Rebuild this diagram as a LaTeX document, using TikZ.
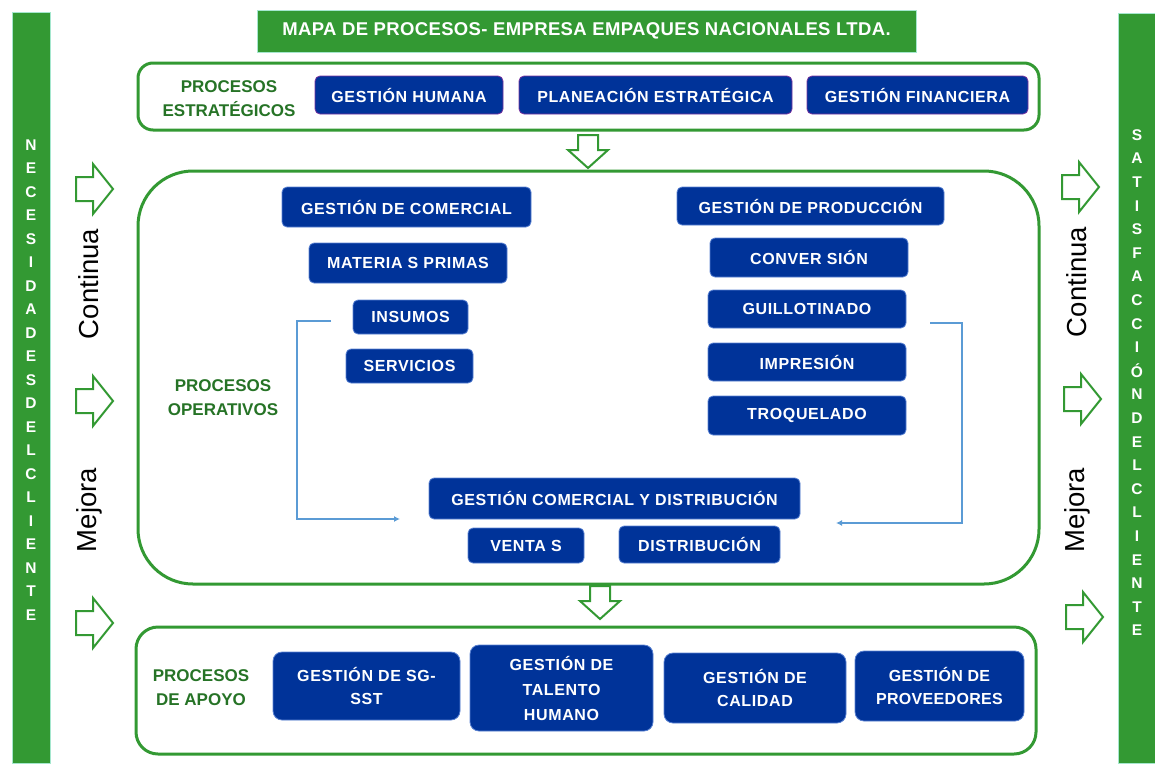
\documentclass[tikz,border=0pt]{standalone}
\usepackage{fontspec}
\setmainfont{Liberation Sans}
\usetikzlibrary{arrows.meta}
\definecolor{gr}{RGB}{51,153,51}
\definecolor{bl}{RGB}{0,51,153}
\definecolor{bledge}{RGB}{90,130,210}
\definecolor{pu}{RGB}{120,50,160}
\definecolor{lb}{RGB}{91,155,213}
\tikzset{
  bbox/.style={fill=bl, draw=bledge, line width=0.8pt, rounded corners=5pt, text=white,
    font=\fontsize{16}{24}\selectfont\bfseries\addfontfeature{LetterSpace=4}, align=center, inner sep=2pt},
  tbox/.style={bbox, draw=pu},
  grbox/.style={draw=gr, line width=3pt},
  grlab/.style={text=gr!75!black, font=\fontsize{17}{24}\selectfont\bfseries, align=center},
  side/.style={font=\fontsize{27.5}{30}\selectfont, rotate=90},
  bar/.style={fill=gr, draw=gr!60!cyan!40, line width=0.6pt},
  barlet/.style={text=white, font=\fontsize{15.5}{16}\selectfont\bfseries},
  harrow/.style={draw=gr, line width=2pt, fill=white, line join=miter},
  conn/.style={draw=lb, line width=1.8pt},
  rarr/.pic={\path[harrow] (0,-12) -- (17,-12) -- (17,-25) -- (37,0) -- (17,25) -- (17,12) -- (0,12) -- cycle;},
  darr/.pic={\path[harrow] (-10,0) -- (10,0) -- (10,15) -- (20,15) -- (0,33) -- (-20,15) -- (-10,15) -- cycle;}
}
\begin{document}
\begin{tikzpicture}[x=1pt,y=-1pt]
\useasboundingbox (0,0) rectangle (1155,763);
% side bars
\path[bar] (12,12) rectangle (50,763);
\path[bar] (1118,13) rectangle (1156,763);
\foreach \l [count=\i from 0] in {N,E,C,E,S,I,D,A,D,E,S,D,E,L,C,L,I,E,N,T,E}
  \node[barlet] at (31,{145+\i*23.5}) {\l};
\foreach \l [count=\i from 0] in {S,A,T,I,S,F,A,C,C,I,Ó,N,D,E,L,C,L,I,E,N,T,E}
  \node[barlet] at (1137,{135+\i*23.6}) {\l};
% title
\node[fill=gr, draw=gr!60!cyan!40, line width=0.6pt, minimum width=659pt, minimum height=42pt, text=white,
  font=\fontsize{18.5}{20}\selectfont\bfseries\addfontfeature{LetterSpace=2}] (title) at (586.5,31)
  {MAPA DE PROCESOS- EMPRESA EMPAQUES NACIONALES LTDA.};
% group frames
\draw[grbox, rounded corners=15pt] (138,63) rectangle (1039,130);
\draw[grbox, rounded corners=55pt] (138,171) rectangle (1039,584);
\draw[grbox, rounded corners=22pt] (136,627) rectangle (1036,754);
% group labels
\node[grlab] (lest) at (229,99) {PROCESOS\\ESTRATÉGICOS};
\node[grlab] (lop) at (223,398) {PROCESOS\\OPERATIVOS};
\node[grlab] (lap) at (201,688) {PROCESOS\\DE APOYO};
% strategic
\node[tbox, minimum width=188pt, minimum height=38pt] (gh) at (409,95) {GESTIÓN HUMANA};
\node[tbox, minimum width=273pt, minimum height=38pt] (pe) at (655.5,95) {PLANEACIÓN ESTRATÉGICA};
\node[tbox, minimum width=221pt, minimum height=38pt] (gf) at (917.5,95) {GESTIÓN FINANCIERA};
% operative
\node[bbox, minimum width=249pt, minimum height=40pt] (gdc) at (406.5,207) {GESTIÓN DE COMERCIAL};
\node[bbox, minimum width=198pt, minimum height=40pt] (mp) at (408,263) {MATERIA S PRIMAS};
\node[bbox, minimum width=115pt, minimum height=34pt] (ins) at (410.5,317) {INSUMOS};
\node[bbox, minimum width=127pt, minimum height=34pt] (serv) at (409.5,366) {SERVICIOS};
\node[bbox, minimum width=267pt, minimum height=38pt] (gdp) at (810.5,206) {GESTIÓN DE PRODUCCIÓN};
\node[bbox, minimum width=198pt, minimum height=39pt] (conv) at (809,257.5) {CONVER SIÓN};
\node[bbox, minimum width=198pt, minimum height=38pt] (guil) at (807,309) {GUILLOTINADO};
\node[bbox, minimum width=198pt, minimum height=38pt] (imp) at (807,362) {IMPRESIÓN};
\node[bbox, minimum width=198pt, minimum height=39pt] (troq) at (807,415.5) {TROQUELADO};
\node[bbox, minimum width=371pt, minimum height=41pt] (gcd) at (614.5,498.5) {GESTIÓN COMERCIAL Y DISTRIBUCIÓN};
\node[bbox, minimum width=116pt, minimum height=35pt] (ven) at (526,545.5) {VENTA S};
\node[bbox, minimum width=161pt, minimum height=37pt] (dist) at (699.5,544.5) {DISTRIBUCIÓN};
% support
\node[bbox, minimum width=187pt, minimum height=68pt, rounded corners=9pt, font=\fontsize{16}{23}\selectfont\bfseries\addfontfeature{LetterSpace=4}] (sst) at (366.5,686) {GESTIÓN DE SG-\\SST};
\node[bbox, minimum width=183pt, minimum height=86pt, rounded corners=9pt, font=\fontsize{16}{25}\selectfont\bfseries\addfontfeature{LetterSpace=4}] (th) at (561.5,688) {GESTIÓN DE\\TALENTO\\HUMANO};
\node[bbox, minimum width=182pt, minimum height=70pt, rounded corners=9pt, font=\fontsize{16}{23}\selectfont\bfseries\addfontfeature{LetterSpace=4}] (cal) at (755,688) {GESTIÓN DE\\CALIDAD};
\node[bbox, minimum width=169pt, minimum height=70pt, rounded corners=9pt, font=\fontsize{16}{23}\selectfont\bfseries\addfontfeature{LetterSpace=2}] (prov) at (939.5,686) {GESTIÓN DE\\PROVEEDORES};
% connectors
\coordinate (c1) at (331,321);
\coordinate (c1e) at (400,519);
\coordinate (c2) at (930,323);
\coordinate (c2e) at (836,523);
\draw[conn, -{Latex[length=6pt,width=6pt]}] (c1) -- (297,321) -- (297,519) -- (c1e);
\draw[conn, -{Latex[length=6pt,width=6pt]}] (c2) -- (962,323) -- (962,523) -- (c2e);
% block arrows
\pic at (588,135) {darr};
\pic at (600,586) {darr};
\pic at (76,189) {rarr};
\pic at (76,401) {rarr};
\pic at (76,623) {rarr};
\pic at (1062,187) {rarr};
\pic at (1064,399) {rarr};
\pic at (1066,617) {rarr};
% side texts
\node[side] (lc) at (89,284) {Continua};
\node[side] (lm) at (89,510) {Mejora};
\node[side] (rc) at (1077,282) {Continua};
\node[side] (rm) at (1077,510) {Mejora};
\end{tikzpicture}
\end{document}
